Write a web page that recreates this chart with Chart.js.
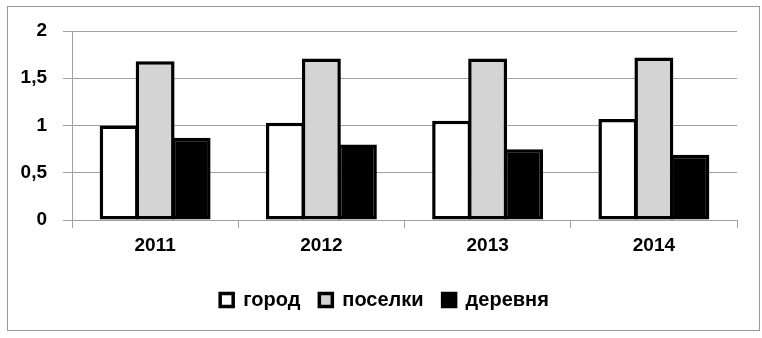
<!DOCTYPE html>
<html>
<head>
<meta charset="utf-8">
<script src="https://cdn.jsdelivr.net/npm/chart.js@4"></script>
<style>
    body { margin: 0; background: #fff; }
    #wrap { width: 762px; height: 338px; }
</style>
</head>
<body>
<div id="wrap"><canvas id="BarChart" width="762" height="338"></canvas></div>
<script>
// Chart data
const years = ['2011', '2012', '2013', '2014'];
const gorod = [1.0, 1.03, 1.05, 1.07];
const poselki = [1.68, 1.71, 1.71, 1.72];
const derevnya = [0.87, 0.80, 0.75, 0.69];
const yTicks = [0, 0.5, 1, 1.5, 2];

const labelFont = { family: '"Liberation Sans", Arial, sans-serif', size: 19, weight: 'bold' };
const legendFont = { family: '"Liberation Sans", Arial, sans-serif', size: 20, weight: 'bold' };

// Grey frame round the whole chart, and legend nudged right to sit under the middle like the original
const framePlugin = {
    id: 'frame',
    afterLayout(chart) {
        if (chart.legend) {
            chart.legend.left += 16;
            chart.legend.right += 16;
        }
    },
    beforeDraw(chart) {
        const ctx = chart.ctx;
        ctx.save();
        ctx.fillStyle = '#fff';
        ctx.fillRect(0, 0, chart.width, chart.height);
        ctx.strokeStyle = '#999';
        ctx.lineWidth = 1;
        ctx.strokeRect(7.5, 6.5, 752, 324);
        ctx.restore();
    }
};

function makeSet(label, data, fill) {
    return {
        label: label,
        data: data,
        backgroundColor: fill,
        borderColor: '#000',
        borderWidth: 3.5,
        borderSkipped: false,
        categoryPercentage: 0.65,
        barPercentage: 1.08 // bars overlap a little so neighbours share one border
    };
}

const ctx = document.getElementById('BarChart').getContext('2d');
window.myChart = new Chart(ctx, {
    type: 'bar',
    data: {
        labels: years,
        datasets: [
            makeSet('город', gorod, '#ffffff'),
            makeSet('поселки', poselki, '#d4d4d4'),
            makeSet('деревня', derevnya, '#000000')
        ]
    },
    plugins: [framePlugin],
    options: {
        responsive: false,
        animation: false,
        layout: {
            padding: { left: 0, right: 25, top: 31, bottom: 18 }
        },
        plugins: {
            tooltip: { enabled: false },
            legend: {
                position: 'bottom',
                labels: {
                    color: '#000',
                    font: legendFont,
                    boxWidth: 13,
                    boxHeight: 13,
                    padding: 19
                }
            }
        },
        scales: {
            x: {
                grid: {
                    color: '#a0a0a0',
                    drawOnChartArea: false,
                    tickLength: 8
                },
                border: { color: '#a0a0a0' },
                ticks: { color: '#000', font: labelFont, padding: 6 },
                afterFit(scale) { scale.height = 51; }
            },
            y: {
                min: 0,
                max: 2,
                afterBuildTicks(scale) {
                    scale.ticks = yTicks.map(v => ({ value: v }));
                },
                grid: { color: '#a0a0a0', tickLength: 9 },
                border: { color: '#a0a0a0' },
                ticks: {
                    color: '#000',
                    font: labelFont,
                    padding: 16,
                    callback: v => String(v).replace('.', ',')
                },
                afterFit(scale) { scale.width = 72; }
            }
        }
    }
});
</script>
</body>
</html>
